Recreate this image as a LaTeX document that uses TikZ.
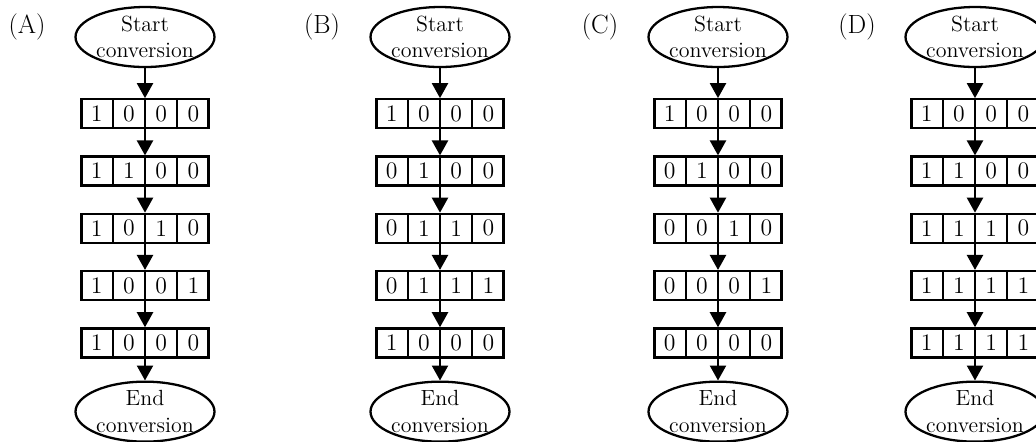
\documentclass[tikz,border=0pt]{standalone}
\usetikzlibrary{shapes.geometric,shapes.multipart,positioning,arrows.meta}

\newcommand{\bitcell}[1]{\parbox[c][0.58cm][c]{0.6cm}{\centering #1}}
\newcommand{\bits}[4]{\bitcell{#1}\nodepart{two}\bitcell{#2}\nodepart{three}\bitcell{#3}\nodepart{four}\bitcell{#4}}

\begin{document}
\begin{tikzpicture}[x=0.02cm, y=-0.02cm, font=\fontsize{13.5}{15.5}\selectfont,
  conv term/.style={draw, ellipse, line width=1.3pt, minimum width=2.78cm, minimum height=1.2cm, inner sep=-1.5pt, align=center, font=\fontsize{12.5}{15}\selectfont},
  conv reg/.style={draw, line width=1.3pt, rectangle split, rectangle split horizontal, rectangle split parts=4, inner sep=0pt},
  conv flow/.style={-{Triangle[length=0.3cm,width=0.32cm]}, line width=1.3pt},
  node distance=0.52cm]
  \useasboundingbox (0,0) rectangle (1036,441);
  \foreach \n/\x/\ra/\rb/\rc/\rd/\re in {A/145/1000/1100/1010/1001/1000, B/440/1000/0100/0110/0111/1000, C/718/1000/0100/0010/0001/0000, D/975/1000/1100/1110/1111/1111}{
    \node[font=\fontsize{15}{17}\selectfont] (lab\n) at (\x-118,27) {(\n)};
    \node[conv term] (s\n) at (\x,37) {Start\\conversion};
    \node[conv reg, below=0.6cm of s\n] (\n1) {\expandafter\bits\ra};
    \node[conv reg, below=of \n1] (\n2) {\expandafter\bits\rb};
    \node[conv reg, below=of \n2] (\n3) {\expandafter\bits\rc};
    \node[conv reg, below=of \n3] (\n4) {\expandafter\bits\rd};
    \node[conv reg, below=of \n4] (\n5) {\expandafter\bits\re};
    \node[conv term, below=0.44cm of \n5] (e\n) {End\\conversion};

    \draw[conv flow] (s\n) -- (\n1);
    \draw[conv flow] (\n1) -- (\n2);
    \draw[conv flow] (\n2) -- (\n3);
    \draw[conv flow] (\n3) -- (\n4);
    \draw[conv flow] (\n4) -- (\n5);
    \draw[conv flow] (\n5) -- (e\n);
  }
\end{tikzpicture}
\end{document}
